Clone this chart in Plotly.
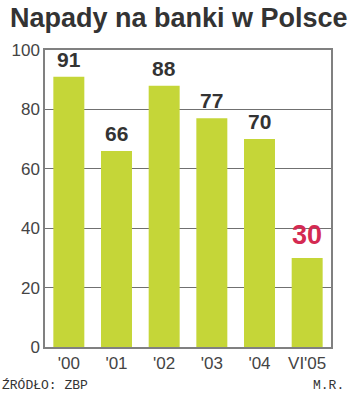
import plotly.graph_objects as go

categories = ["'00", "'01", "'02", "'03", "'04", "VI'05"]
values = [91, 66, 88, 77, 70, 30]
label_colors = ["#333333"] * 5 + ["#d42a52"]
label_sizes = [21] * 5 + [27]
y_ticks = [0, 20, 40, 60, 80, 100]

fig = go.Figure()
fig.add_trace(go.Bar(x=categories, y=values, marker_color="#c5d638",
                     marker_line_width=0, hoverinfo="skip"))

for c, v, col, sz in zip(categories, values, label_colors, label_sizes):
    fig.add_annotation(x=c, y=v, text=f"<b>{v}</b>", showarrow=False,
                       yanchor="bottom", yshift=4 if sz < 25 else 6,
                       font=dict(family="Liberation Sans, Arial", size=sz, color=col))

fig.add_annotation(xref="paper", yref="paper", x=-37/286, y=1 + 50/297,
                   xanchor="left", yanchor="top", yshift=-1, text="<b>Napady na banki w Polsce</b>",
                   showarrow=False, font=dict(family="Liberation Sans, Arial", size=27, color="#333333"))
fig.add_annotation(xref="paper", yref="paper", x=-45/286, y=-38/297,
                   xanchor="left", yanchor="middle", text="ŹRÓDŁO: ZBP",
                   showarrow=False, font=dict(family="Liberation Mono, monospace", size=13, color="#333333"))
fig.add_annotation(xref="paper", yref="paper", x=1 + 15/286, y=-38/297,
                   xanchor="right", yanchor="middle", text="M.R.",
                   showarrow=False, font=dict(family="Liberation Mono, monospace", size=13, color="#333333"))

fig.update_layout(
    width=350, height=398,
    margin=dict(l=45, r=19, t=50, b=51),
    paper_bgcolor="white", plot_bgcolor="white",
    bargap=0.35, showlegend=False,
    font=dict(family="Liberation Sans, Arial", color="#444444"),
)
fig.update_xaxes(showline=True, linecolor="#808080", linewidth=1.5, mirror=True,
                 tickfont=dict(size=17, color="#444444"), ticks="", showgrid=False)
fig.update_yaxes(range=[0, 100], tickvals=y_ticks, showline=True, linecolor="#808080",
                 linewidth=1.5, mirror=True, showgrid=True, gridcolor="#707070", gridwidth=1,
                 tickfont=dict(size=17, color="#444444"), ticks="", zeroline=False)

fig.write_html("out.html")
